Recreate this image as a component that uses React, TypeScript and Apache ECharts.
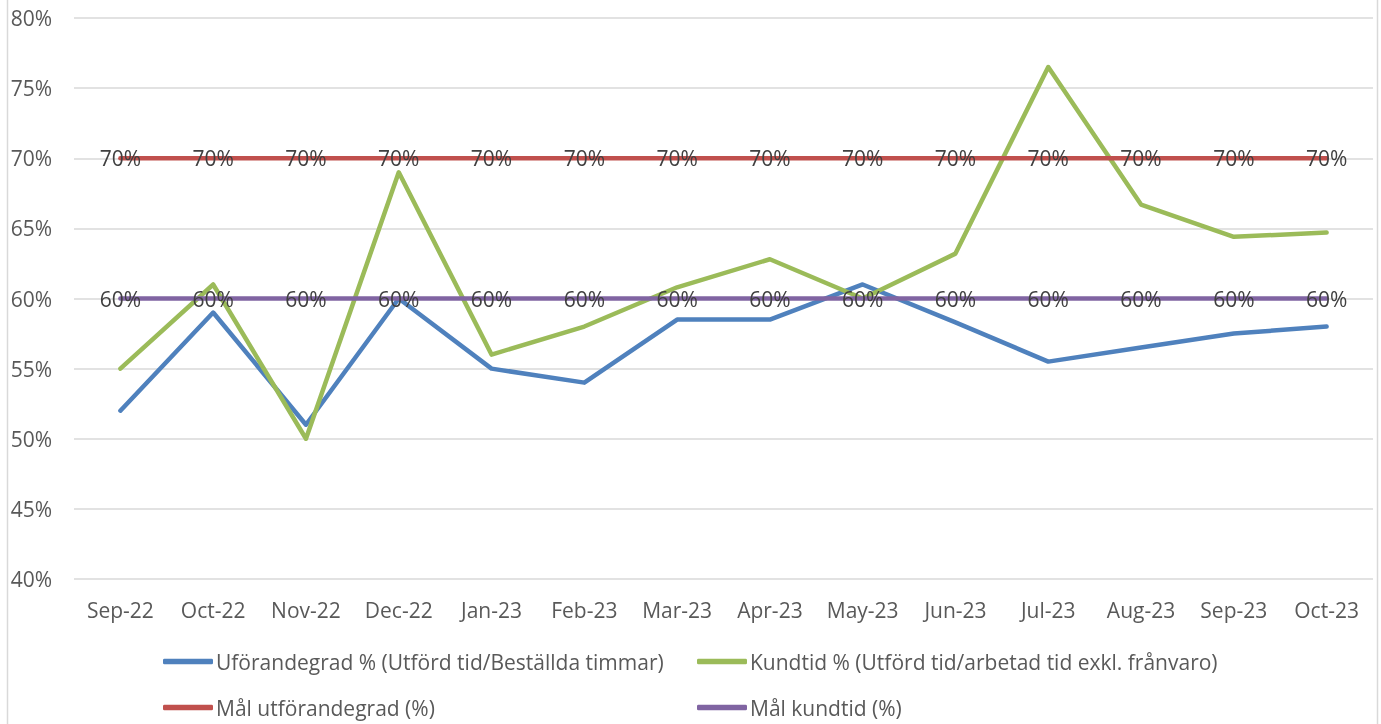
import React, { useEffect, useRef } from "react";
import * as echarts from "echarts";

const categories = ["Sep-22", "Oct-22", "Nov-22", "Dec-22", "Jan-23", "Feb-23", "Mar-23", "Apr-23", "May-23", "Jun-23", "Jul-23", "Aug-23", "Sep-23", "Oct-23"];
const utforandegrad = [52, 59, 51, 60, 55, 54, 58.5, 58.5, 61, 58.3, 55.5, 56.5, 57.5, 58];
const kundtid = [55, 61, 50, 69, 56, 58, 60.8, 62.8, 60, 63.2, 76.5, 66.7, 64.4, 64.7];
const malUtforandegrad = [70, 70, 70, 70, 70, 70, 70, 70, 70, 70, 70, 70, 70, 70];
const malKundtid = [60, 60, 60, 60, 60, 60, 60, 60, 60, 60, 60, 60, 60, 60];

const seriesNames = [
  "Uförandegrad % (Utförd tid/Beställda timmar)",
  "Kundtid % (Utförd tid/arbetad tid exkl. frånvaro)",
  "Mål utförandegrad (%)",
  "Mål kundtid (%)",
];
const colors = ["#4f81bd", "#9bbb59", "#c0504d", "#8064a2"];

const FONT = "Open Sans";
const FS = 21;

export default function App() {
  const ref = useRef<HTMLDivElement>(null);
  useEffect(() => {
    const chart = echarts.init(ref.current!, null, { renderer: "svg" });
    const mkLegend = (i: number, left: number, top: number) => ({
      data: [{ name: seriesNames[i], itemStyle: { color: colors[i], opacity: 1 } }],
      left,
      top,
      orient: "horizontal",
      icon: "roundRect",
      itemWidth: 50,
      itemHeight: 5.5,
      itemGap: 0,
      padding: 0,
      textStyle: { color: "#595959", fontSize: FS, fontFamily: FONT, padding: [0, 0, 0, -2] },
      selectedMode: false,
    });
    const targetLabel = {
      show: true,
      position: "inside",
      formatter: "{c}%",
      color: "#404040",
      fontSize: FS,
      fontFamily: FONT,
      offset: [0, 1],
    };
    const lineSeries = (i: number, data: number[], label?: any) => ({
      name: seriesNames[i],
      type: "line",
      data,
      symbol: label ? "circle" : "none",
      symbolSize: 1,
      showSymbol: !!label,
      itemStyle: label ? { color: "rgba(0,0,0,0)", borderWidth: 0 } : { color: colors[i] },
      color: colors[i],
      lineStyle: { width: 4.5, color: colors[i], cap: "round", join: "round" },
      label: label || { show: false },
      labelLayout: { hideOverlap: false },
      z: 2 + i,
    });
    chart.setOption({
      animation: false,
      textStyle: { fontFamily: FONT },
      grid: { left: 74, right: 8, top: 18, bottom: 145, containLabel: false },
      xAxis: {
        type: "category",
        data: categories,
        boundaryGap: true,
        axisLine: { show: false },
        axisTick: { show: false },
        axisLabel: { color: "#595959", fontSize: FS, fontFamily: FONT, margin: 20, interval: 0 },
      },
      yAxis: {
        type: "value",
        min: 40,
        max: 80,
        interval: 5,
        axisLine: { show: false },
        axisTick: { show: false },
        axisLabel: { color: "#595959", fontSize: FS, fontFamily: FONT, formatter: "{value}%", margin: 22 },
        splitLine: { lineStyle: { color: "#d9d9d9", width: 1.5 } },
      },
      legend: [
        mkLegend(0, 163, 651),
        mkLegend(1, 697, 651),
        mkLegend(2, 163, 697),
        mkLegend(3, 697, 697),
      ],
      graphic: [
        { type: "line", shape: { x1: 7.5, y1: 0, x2: 7.5, y2: 724 }, style: { stroke: "#d9d9d9", lineWidth: 1.5 } },
        { type: "line", shape: { x1: 1377.5, y1: 0, x2: 1377.5, y2: 724 }, style: { stroke: "#d9d9d9", lineWidth: 1.5 } },
      ],
      series: [
        lineSeries(0, utforandegrad),
        lineSeries(1, kundtid),
        lineSeries(2, malUtforandegrad, targetLabel),
        lineSeries(3, malKundtid, targetLabel),
      ],
    });
    return () => chart.dispose();
  }, []);
  return <div ref={ref} style={{ position: "fixed", left: 0, top: 0, width: 1381, height: 724 }} />;
}
